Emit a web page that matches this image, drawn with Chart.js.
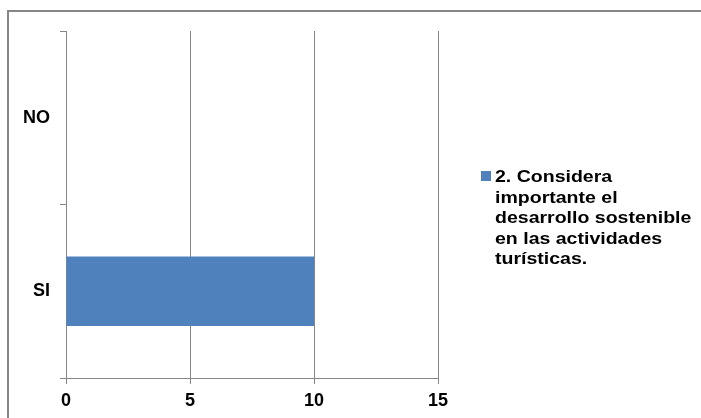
<!DOCTYPE html>
<html>
<head>
<meta charset="utf-8">
<script src="https://cdn.jsdelivr.net/npm/chart.js@4/dist/chart.umd.min.js"></script>
<style>
  html, body { margin: 0; padding: 0; background: #fff; overflow: hidden; }
  #wrap { position: relative; width: 701px; height: 418px; }
  #frame {
    position: absolute; left: 7px; top: 10px; width: 800px; height: 500px;
    border-top: 2px solid #868686; border-left: 2px solid #868686;
  }
  canvas { position: absolute; left: 0; top: 0; }
</style>
</head>
<body>
<div id="wrap">
  <div id="frame"></div>
  <canvas id="chart" width="701" height="418"></canvas>
</div>
<script>
// ---------- DATA ----------
const categories = ["NO", "SI"];
const values = [0, 10];
const xTicks = [0, 5, 10, 15];
const seriesLines = ["2. Considera", "importante el", "desarrollo sostenible", "en las actividades", "turísticas."];

const axisColor = "#868686";
const barColor = "#4F81BD";
const font = "'Liberation Sans', Arial, sans-serif";

// legend drawn on the right side, text broken into lines like the original
const sideLegend = {
  id: "sideLegend",
  afterDraw(chart) {
    const ctx = chart.ctx;
    ctx.save();
    ctx.fillStyle = barColor;
    ctx.fillRect(481, 171, 10, 10);
    ctx.fillStyle = "#000";
    ctx.font = "bold 16px " + font;
    ctx.textBaseline = "alphabetic";
    // original text is a bit wider than the font, stretch it a little
    ctx.translate(495, 0);
    ctx.scale(1.22, 1);
    seriesLines.forEach((line, i) => {
      ctx.fillText(line, 0, 182 + i * 20.6);
    });
    ctx.restore();
  }
};

new Chart(document.getElementById("chart"), {
  type: "bar",
  data: {
    labels: categories,
    datasets: [{
      label: seriesLines.join(" "),
      data: values,
      backgroundColor: barColor,
      barPercentage: 0.8,
      categoryPercentage: 0.5
    }]
  },
  options: {
    indexAxis: "y",
    responsive: false,
    animation: false,
    layout: { padding: { left: 0, top: 31, right: 263, bottom: 0 } },
    plugins: {
      legend: { display: false },
      tooltip: { enabled: false }
    },
    scales: {
      x: {
        min: 0,
        max: 15,
        afterBuildTicks: (axis) => { axis.ticks = xTicks.map(v => ({ value: v })); },
        afterFit: (axis) => { axis.height = 40; },
        grid: { color: axisColor, tickLength: 6, drawTicks: true },
        border: { color: axisColor, width: 1 },
        ticks: { color: "#000", padding: 6, font: { family: font, size: 18, weight: "bold" } }
      },
      y: {
        offset: true,
        afterFit: (axis) => { axis.width = 66; },
        grid: { offset: true, drawOnChartArea: false, color: axisColor, tickLength: 6 },
        border: { color: axisColor, width: 1 },
        ticks: { color: "#000", padding: 10, font: { family: font, size: 18, weight: "bold" } }
      }
    }
  },
  plugins: [sideLegend]
});
</script>
</body>
</html>
